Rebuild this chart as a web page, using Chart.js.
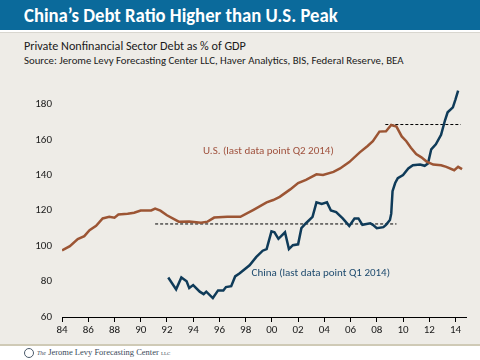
<!DOCTYPE html>
<html>
<head>
<meta charset="utf-8">
<script src="https://cdn.jsdelivr.net/npm/chart.js@4/dist/chart.umd.min.js"></script>
<style>
  html, body { margin: 0; padding: 0; }
  body { width: 480px; height: 360px; position: relative; overflow: hidden; background: #eeece7; font-family: Carlito, Lato, sans-serif; }
  #header { position: absolute; left: 0; top: 0; width: 480px; height: 30px; background: #0b6a9b; border-bottom: 2px solid #ffffff; }
  #header-line { position: absolute; left: 0; top: 32px; width: 480px; height: 1px; background: #d8d6cf; }
  .fit { position: absolute; white-space: nowrap; transform-origin: 0 50%; }
  #title { left: 24px; top: 2px; line-height: 26px; font-size: 20px; font-weight: bold; color: #ffffff; }
  #subtitle { left: 24px; top: 39px; line-height: 15px; font-size: 11.5px; color: #1a1a1a; }
  #source { left: 24px; top: 55px; line-height: 12px; font-size: 9.5px; color: #1a1a1a; }
  #chartBox { position: absolute; left: 0; top: 70px; width: 480px; height: 275px; }
  #footer { position: absolute; left: 0; top: 344px; width: 480px; height: 16px; background: #ffffff; border-top: 2px solid #cfcab6; }
  #logo { position: absolute; left: 24px; top: 2px; width: 8px; height: 8px; border: 1.5px solid #4a5a6a; border-radius: 50%; }
  #footer-text { position: absolute; left: 37px; top: 1px; font-family: "Liberation Serif", "DejaVu Serif", serif; font-size: 8.5px; color: #3a4a5a; white-space: nowrap; }
</style>
</head>
<body>
<div id="header"></div>
<div id="header-line"></div>
<div id="title" class="fit" data-w="314">China’s Debt Ratio Higher than U.S. Peak</div>
<div id="subtitle" class="fit" data-w="222">Private Nonfinancial Sector Debt as % of GDP</div>
<div id="source" class="fit" data-w="380">Source: Jerome Levy Forecasting Center LLC, Haver Analytics, BIS, Federal Reserve, BEA</div>
<div id="chartBox"><canvas id="chart" width="480" height="275"></canvas></div>
<div id="footer">
  <div id="logo"></div>
  <div id="footer-text"><i style="font-size:6px">The</i> Jerome Levy Forecasting Center <span style="font-size:5px">LLC</span></div>
</div>
<script>
// years as decimals, values as % of GDP
const usYears = [1984.0, 1984.6, 1985.2, 1985.7, 1986.1, 1986.6, 1987.1, 1987.6, 1988.0, 1988.3,
  1989.0, 1989.5, 1990.0, 1990.8, 1991.1, 1991.5, 1992.0, 1992.9, 1993.7, 1994.6,
  1995.1, 1995.6, 1996.6, 1997.6, 1998.6, 1999.6, 2000.1, 2000.6, 2001.4, 2002.0,
  2002.6, 2003.4, 2003.9, 2004.7, 2005.2, 2005.9, 2006.7, 2007.3, 2007.7, 2008.2,
  2008.7, 2009.1, 2009.5, 2009.9, 2010.25, 2010.6, 2011.0, 2011.4, 2011.8, 2012.3,
  2012.9, 2013.3, 2013.9, 2014.2, 2014.5];
const usValues = [97.6, 100, 104, 105.6, 109, 111.4, 115.6, 116.5, 116, 117.8,
  118.3, 118.8, 120.1, 120.1, 121.2, 120, 117.4, 113.8, 113.9, 113.2,
  113.8, 116.1, 116.5, 116.5, 120.5, 124.7, 126, 127.8, 132, 135.6,
  137.4, 140.5, 140.1, 141.9, 143.8, 147.4, 152.9, 156.5, 159.2, 164.6,
  164.8, 168.3, 167.4, 161.9, 159.2, 155.5, 151.9, 150.1, 147.7, 146,
  145.6, 144.7, 142.8, 144.7, 143.4];

const chinaYears = [1992.1, 1992.7, 1993.1, 1993.5, 1993.7, 1994.0, 1994.5, 1994.8, 1995.0, 1995.5,
  1995.9, 1996.3, 1996.5, 1996.9, 1997.2, 1997.55, 1998.3, 1998.8, 1999.3, 1999.6,
  1999.97, 2000.2, 2000.5, 2001.0, 2001.3, 2001.6, 2002.0, 2002.25, 2002.6, 2003.1,
  2003.4, 2003.8, 2004.2, 2004.5, 2004.9, 2005.4, 2005.9, 2006.3, 2006.6, 2006.9,
  2007.5, 2007.7, 2008.0, 2008.5, 2008.7, 2009.0, 2009.1, 2009.2, 2009.4, 2009.6,
  2010.0, 2010.4, 2010.75, 2011.3, 2011.65, 2011.9, 2012.15, 2012.5, 2012.9, 2013.2,
  2013.4, 2013.8, 2014.0, 2014.2];
const chinaValues = [82.3, 75.6, 82.3, 80.2, 76.3, 78, 74.3, 72.9, 74.3, 70.7,
  75, 75, 76.9, 77.4, 82.9, 84.7, 89.2, 93.8, 97.4, 98.3,
  108.3, 107.8, 104.1, 107.8, 98.3, 100.5, 101, 110.1, 112.9, 116.5,
  124.7, 123.8, 124.7, 120.1, 119.2, 115.6, 111.4, 115.6, 115.6, 112,
  112.9, 112, 110.1, 110.7, 112, 114.7, 118.3, 131, 135.6, 138.3,
  140.1, 143.8, 145.6, 146, 145.3, 146.6, 154.6, 157.4, 162.8, 171,
  175.5, 178.3, 182.8, 187.7];

// dashed reference lines: [startYear, endYear], level
const usPeakSpan = [2008.65, 2014.4];
const usPeakLevel = 168.6;
const oldLevelSpan = [1991.1, 2009.5];
const oldLevel = 112.5;

const xTicks = [1984, 1986, 1988, 1990, 1992, 1994, 1996, 1998, 2000, 2002, 2004, 2006, 2008, 2010, 2012, 2014];
const yTicks = [60, 80, 100, 120, 140, 160, 180];

const usLabel = { text: 'U.S. (last data point Q2 2014)', x: 1994.75, y: 153.7, color: '#a0523e' };
const chinaLabel = { text: 'China (last data point Q1 2014)', x: 1998.45, y: 84.5, color: '#1d4a6e' };

const US_COLOR = '#9c5534';
const CHINA_COLOR = '#0f3b59';

// squeeze html text to the width measured on the slide
document.querySelectorAll('.fit').forEach(el => {
  const w = +el.dataset.w;
  el.style.transform = 'scaleX(' + (w / el.offsetWidth) + ')';
});

const toPoints = (xs, ys) => xs.map((x, i) => ({ x: x, y: ys[i] }));

const textLabels = {
  id: 'textLabels',
  afterDatasetsDraw(chart) {
    const ctx = chart.ctx;
    const xs = chart.scales.x, ys = chart.scales.y;
    ctx.save();
    ctx.font = '11px Carlito, Lato, sans-serif';
    ctx.textBaseline = 'middle';
    ctx.textAlign = 'left';
    [usLabel, chinaLabel].forEach(l => {
      ctx.fillStyle = l.color;
      ctx.fillText(l.text, xs.getPixelForValue(l.x), ys.getPixelForValue(l.y));
    });
    ctx.restore();
  }
};

new Chart(document.getElementById('chart'), {
  type: 'line',
  data: {
    datasets: [
      {
        label: 'U.S.',
        data: toPoints(usYears, usValues),
        borderColor: US_COLOR,
        borderWidth: 2.5,
        pointRadius: 0,
        tension: 0
      },
      {
        label: 'China',
        data: toPoints(chinaYears, chinaValues),
        borderColor: CHINA_COLOR,
        borderWidth: 2.5,
        pointRadius: 0,
        tension: 0
      },
      {
        label: 'U.S. peak',
        data: toPoints(usPeakSpan, [usPeakLevel, usPeakLevel]),
        borderColor: '#000000',
        borderWidth: 1,
        borderDash: [3, 2],
        pointRadius: 0
      },
      {
        label: 'China earlier level',
        data: toPoints(oldLevelSpan, [oldLevel, oldLevel]),
        borderColor: '#000000',
        borderWidth: 1,
        borderDash: [3, 2],
        pointRadius: 0
      }
    ]
  },
  options: {
    responsive: false,
    animation: false,
    devicePixelRatio: 1,
    layout: { padding: { left: 0, right: 14, top: 9, bottom: 0 } },
    plugins: {
      legend: { display: false },
      tooltip: { enabled: false }
    },
    scales: {
      x: {
        type: 'linear',
        min: 1984,
        max: 2014.8,
        afterBuildTicks: (scale) => { scale.ticks = xTicks.map(v => ({ value: v })); },
        afterFit: (scale) => { scale.height = 28; },
        ticks: {
          color: '#1a1a1a',
          font: { family: 'Carlito, Lato, sans-serif', size: 11 },
          padding: 2,
          maxRotation: 0,
          autoSkip: false,
          callback: (v) => String(v % 100).padStart(2, '0')
        },
        grid: { drawOnChartArea: false, drawTicks: true, tickLength: 5, color: '#000000' },
        border: { display: true, color: '#000000', width: 1 }
      },
      y: {
        min: 60,
        max: 190,
        afterBuildTicks: (scale) => { scale.ticks = yTicks.map(v => ({ value: v })); },
        afterFit: (scale) => { scale.width = 62; },
        ticks: {
          color: '#1a1a1a',
          font: { family: 'Carlito, Lato, sans-serif', size: 11 },
          padding: 10
        },
        grid: { display: false, drawTicks: false },
        border: { display: false }
      }
    }
  },
  plugins: [textLabels]
});
</script>
</body>
</html>
